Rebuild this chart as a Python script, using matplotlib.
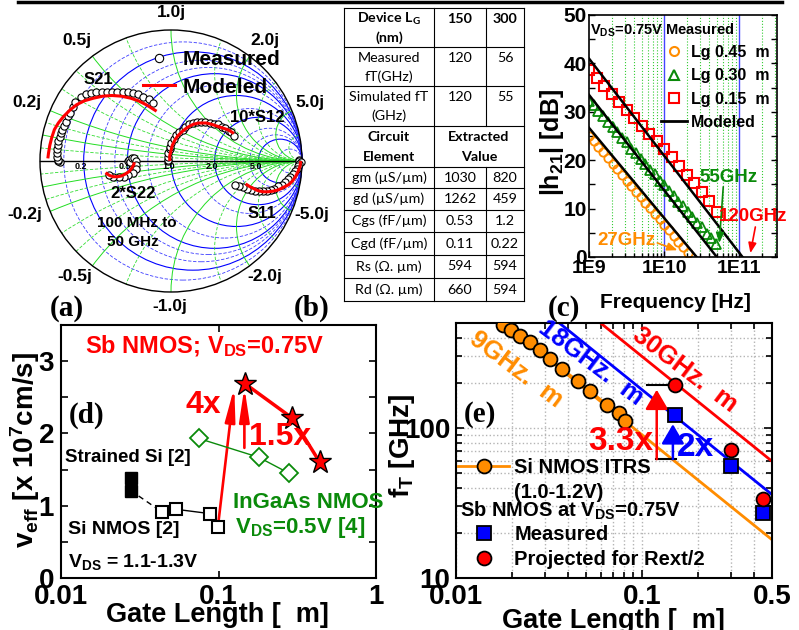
import matplotlib
matplotlib.use("Agg")
import matplotlib.pyplot as plt
from matplotlib.patches import Circle
from matplotlib.lines import Line2D

# ======================= DATA =======================
# (a) Smith chart: reflection coefficient (real, imag)
s21_meas_re = [-0.85, -0.86, -0.86, -0.87, -0.87, -0.87, -0.86, -0.86, -0.85, -0.84, -0.83, -0.82, -0.80, -0.79, -0.77, -0.75,
               -0.73, -0.69, -0.65, -0.61, -0.57, -0.53, -0.49, -0.45, -0.41, -0.37, -0.33, -0.29, -0.25, -0.21, -0.17, -0.14]
s21_meas_im = [-0.01, 0.00, 0.01, 0.03, 0.06, 0.09, 0.12, 0.15, 0.18, 0.21, 0.24, 0.27, 0.30, 0.34, 0.37, 0.41,
               0.45, 0.49, 0.51, 0.52, 0.53, 0.53, 0.53, 0.53, 0.53, 0.53, 0.53, 0.52, 0.51, 0.49, 0.47, 0.44]
s21_mod_re = [-0.94, -0.935, -0.925, -0.91, -0.89, -0.86, -0.82, -0.77, -0.72, -0.66, -0.59, -0.52, -0.45, -0.38, -0.31, -0.25, -0.19, -0.15, -0.11]
s21_mod_im = [0.02, 0.06, 0.12, 0.18, 0.24, 0.29, 0.34, 0.39, 0.43, 0.46, 0.48, 0.495, 0.50, 0.495, 0.48, 0.46, 0.43, 0.405, 0.38]

s22_meas_re = [-0.33, -0.32, -0.31, -0.30, -0.28, -0.27, -0.27, -0.27, -0.29, -0.33, -0.36, -0.40, -0.44, -0.47]
s22_meas_im = [0.00, 0.01, -0.01, 0.02, 0.02, 0.00, -0.03, -0.06, -0.09, -0.11, -0.12, -0.12, -0.12, -0.11]
s22_mod_re = [-0.50, -0.47, -0.44, -0.41, -0.38, -0.35, -0.32, -0.30, -0.285, -0.28]
s22_mod_im = [-0.09, -0.11, -0.12, -0.12, -0.115, -0.10, -0.08, -0.055, -0.03, -0.01]

s12_meas_re = [-0.02, -0.02, -0.02, -0.02, -0.01, -0.01, 0.00, 0.02, 0.04, 0.06, 0.09, 0.11, 0.14, 0.17, 0.20,
               0.23, 0.26, 0.30, 0.33, 0.36, 0.39, 0.41, 0.44, 0.46, 0.48]
s12_meas_im = [0.00, 0.01, 0.03, 0.06, 0.09, 0.11, 0.14, 0.17, 0.20, 0.22, 0.24, 0.26, 0.28, 0.29, 0.30,
               0.30, 0.30, 0.29, 0.28, 0.28, 0.26, 0.25, 0.23, 0.22, 0.19]
s12_mod_re = [-0.01, -0.01, 0.00, 0.01, 0.03, 0.05, 0.08, 0.11, 0.14, 0.17, 0.21, 0.24, 0.27, 0.31, 0.34, 0.37, 0.40, 0.43, 0.45, 0.48]
s12_mod_im = [0.00, 0.04, 0.08, 0.12, 0.16, 0.19, 0.22, 0.245, 0.265, 0.28, 0.29, 0.29, 0.29, 0.28, 0.27, 0.26, 0.25, 0.24, 0.23, 0.21]

s11_meas_re = [0.98, 0.98, 0.99, 0.98, 0.97, 0.96, 0.95, 0.93, 0.91, 0.89, 0.87, 0.85, 0.82, 0.79, 0.76,
               0.73, 0.70, 0.67, 0.64, 0.61, 0.58, 0.55, 0.52, 0.49]
s11_meas_im = [0.01, 0.00, -0.01, -0.02, -0.04, -0.06, -0.08, -0.10, -0.12, -0.14, -0.16, -0.18, -0.19, -0.21, -0.22,
               -0.23, -0.23, -0.23, -0.23, -0.22, -0.21, -0.20, -0.19, -0.18]
s11_mod_re = [0.99, 0.985, 0.97, 0.95, 0.93, 0.90, 0.86, 0.82, 0.78, 0.74, 0.70, 0.66, 0.63, 0.60, 0.57]
s11_mod_im = [0.0, -0.04, -0.08, -0.12, -0.15, -0.18, -0.20, -0.22, -0.23, -0.235, -0.235, -0.225, -0.21, -0.195, -0.175]

smith_r_solid = [0.2, 0.5, 1.0, 2.0, 5.0]
smith_r_dash = [0.1, 0.3, 0.4, 0.7, 1.5, 3.0, 4.0, 10.0]
smith_x_solid = [0.1, 0.2, 0.5, 1.0, 2.0, 5.0]
smith_x_dash = [0.05, 0.15, 0.3, 0.4, 0.7, 1.5, 3.0, 10.0]
smith_axis_vals = [0.2, 0.5, 1.0, 2.0, 5.0]
smith_axis_labels = ["0.2", "0.5", "1.0", "2.0", "5.0"]

# (b) table
tab_head = [("Device L$_G$", "(nm)", "150", "300"),
            ("Measured", "fT(GHz)", "120", "56"),
            ("Simulated fT", "(GHz)", "120", "55")]
tab_param = ["gm (µS/µm)", "gd (µS/µm)", "Cgs (fF/µm)", "Cgd (fF/µm)", "Rs (Ω. µm)", "Rd (Ω. µm)"]
tab_150 = ["1030", "1262", "0.53", "0.11", "594", "660"]
tab_300 = ["820", "459", "1.2", "0.22", "594", "594"]

# (c) |h21| vs frequency
f_045_ghz = [1.000, 1.155, 1.334, 1.540, 1.778, 2.054, 2.371, 2.738, 3.162, 3.652, 4.217, 4.870, 5.623, 6.494,
             7.499, 8.660, 10.00, 11.55, 13.34, 15.40, 17.78, 20.54]
db_045 = [25.0, 23.9, 22.7, 21.6, 20.4, 19.3, 18.1, 17.0, 15.8, 14.7, 13.5, 12.4, 11.2, 10.1,
          8.9, 7.8, 6.6, 5.5, 4.3, 3.2, 2.0, 0.9]
f_030_ghz = [1.000, 1.155, 1.334, 1.540, 1.778, 2.054, 2.371, 2.738, 3.162, 3.652, 4.217, 4.870, 5.623, 6.494,
             7.499, 8.660, 10.00, 11.55, 13.34, 15.40, 17.78, 20.54, 23.71, 27.38, 31.62, 36.52, 42.17, 48.70]
db_030 = [32.3, 31.4, 30.1, 29.2, 27.9, 26.9, 25.9, 24.6, 23.7, 22.4, 21.5, 20.2, 19.3, 18.0,
          17.1, 15.8, 14.9, 13.6, 12.7, 11.4, 10.5, 9.2, 8.3, 7.0, 6.1, 4.8, 3.9, 2.6]
f_015_ghz = [1.0, 1.26, 1.58, 2.0, 2.51, 3.16, 3.98, 5.01, 6.31, 7.94, 10.0, 12.6, 15.8, 20.0, 25.1, 31.6, 39.8, 50.1]
db_015 = [38.6, 37.0, 35.3, 33.7, 32.0, 30.4, 28.8, 27.1, 25.5, 23.9, 22.4, 20.6, 18.8, 17.0, 15.2, 13.4, 11.5, 9.4]
mod_015_ghz, mod_015_db = [1.0, 110.0], [41.0, 0.0]
mod_030_ghz, mod_030_db = [1.0, 50.0], [33.5, 0.0]
mod_045_ghz, mod_045_db = [1.0, 27.0], [26.7, 0.0]

# (d) effective velocity vs gate length
lg_sb = [0.147, 0.295, 0.44]
veff_sb = [2.69, 2.21, 1.60]
lg_ingaas = [0.075, 0.18, 0.28]
veff_ingaas = [1.93, 1.67, 1.45]
lg_strained = [0.0277, 0.0277]
veff_strained = [1.38, 1.21]
lg_si = [0.044, 0.054, 0.0886, 0.099]
veff_si = [0.91, 0.95, 0.89, 0.71]

# (e) fT vs gate length
itrs_lg = [0.0179, 0.0198, 0.022, 0.0249, 0.0282, 0.032, 0.037, 0.0455, 0.0526, 0.0647, 0.0748, 0.0813]
itrs_ft = [489, 449, 413, 372, 333, 288, 247, 205, 176, 143, 126, 112]
sb_lg = [0.15, 0.30, 0.45]
sb_meas_ft = [122, 55.5, 27]
sb_proj_ft = [194, 71.7, 33.6]
iso_lg = [0.01, 0.5]
iso_9 = [900, 18]
iso_18 = [1800, 36]
iso_30 = [3000, 60]

# ======================= FIGURE =======================
plt.rcParams['font.family'] = ['Liberation Sans', 'DejaVu Sans']
plt.rcParams['font.weight'] = 'bold'
plt.rcParams['mathtext.default'] = 'regular'
plt.rcParams['axes.linewidth'] = 1.5

W, H = 799, 630
fig = plt.figure(figsize=(W / 100, H / 100), dpi=100)


def px_axes(l, t, r, b, **kw):
    return fig.add_axes([l / W, 1 - b / H, (r - l) / W, (b - t) / H], **kw)


ov = fig.add_axes([0, 0, 1, 1], zorder=10)
ov.set_xlim(0, W)
ov.set_ylim(H, 0)
ov.axis('off')


def T(x, y, s, size, **kw):
    kw.setdefault('ha', 'center')
    kw.setdefault('va', 'center')
    ov.text(x, y, s, fontsize=size, **kw)


RED = '#ff0000'
GREEN = '#0a8a0a'
ORANGE = '#ff8c00'
BLUE = '#0000ff'
SERIF = ['Liberation Serif', 'DejaVu Serif']

# top rule
ov.plot([18, 782], [1.5, 1.5], color='k', lw=2.5)

# ---------------- (a) Smith chart ----------------
R, cx, cy, m = 131, 171, 161, 4
sm = px_axes(cx - R - m, cy - R - m, cx + R + m, cy + R + m)
lim = (R + m) / R
sm.set_xlim(-lim, lim)
sm.set_ylim(-lim, lim)
sm.axis('off')
border = Circle((0, 0), 1, fill=False, ec='black', lw=1.0, zorder=3)
sm.add_patch(border)
for r in smith_r_solid:
    sm.add_patch(Circle((r / (1 + r), 0), 1 / (1 + r), fill=False, ec='#0000ff', lw=0.8, zorder=1))
for r in smith_r_dash:
    sm.add_patch(Circle((r / (1 + r), 0), 1 / (1 + r), fill=False, ec='#3b3bff', lw=0.6,
                        ls=(0, (4, 2)), zorder=1))
for xv in smith_x_solid:
    for s in (1, -1):
        c = Circle((1, s / xv), 1 / xv, fill=False, ec='#22dd22', lw=0.7, zorder=1)
        sm.add_patch(c)
        c.set_clip_path(border)
for xv in smith_x_dash:
    for s in (1, -1):
        c = Circle((1, s / xv), 1 / xv, fill=False, ec='#33dd33', lw=0.6, ls=(0, (4, 2)), zorder=1)
        sm.add_patch(c)
        c.set_clip_path(border)
sm.plot([-1, 1], [0, 0], color='k', lw=1.0, zorder=2)
for v, lab in zip(smith_axis_vals, smith_axis_labels):
    sm.text((v - 1) / (v + 1) - 0.02, -0.045, lab, fontsize=6.5, ha='center', va='center', zorder=2)

mk = dict(ls='none', marker='o', mfc='white', mec='black', ms=5.2, mew=0.8, zorder=4)
for re_, im_ in ((s21_meas_re, s21_meas_im), (s22_meas_re, s22_meas_im),
                 (s12_meas_re, s12_meas_im), (s11_meas_re, s11_meas_im)):
    sm.plot(re_, im_, **mk)
for re_, im_ in ((s21_mod_re, s21_mod_im), (s22_mod_re, s22_mod_im),
                 (s12_mod_re, s12_mod_im), (s11_mod_re, s11_mod_im)):
    sm.plot(re_, im_, color=RED, lw=2.2, zorder=5, solid_capstyle='butt')

sm_handles = [Line2D([], [], ls='none', marker='o', mfc='white', mec='black', ms=6, mew=0.8),
              Line2D([], [], color=RED, lw=2.2)]
leg = sm.legend(sm_handles, ["Measured", "Modeled"], loc='upper left', bbox_to_anchor=(143 / W, 1 - 50 / H),
                bbox_transform=fig.transFigure, frameon=False, borderpad=0, borderaxespad=0,
                handlelength=1.55, handletextpad=0.35, labelspacing=0.42,
                prop=dict(family='Liberation Sans', weight='bold', size=15))
leg.set_zorder(6)

for s, x, y in (("1.0j", 171, 12), ("0.5j", 77, 40), ("2.0j", 265, 40), ("0.2j", 27, 103), ("5.0j", 310, 103),
                ("-0.2j", 25, 215), ("-5.0j", 312, 215), ("-0.5j", 75, 277), ("-2.0j", 265, 277), ("-1.0j", 170, 307)):
    T(x, y, s, 12.5)
T(98, 80, "S21", 12)
T(257, 118, "10*S12", 12)
T(133, 193, "2*S22", 12)
T(262, 213, "S11", 12)
T(137, 223, "100 MHz to", 11)
T(133, 242, "50 GHz", 11)

# ---------------- (b) table ----------------
tx = [344, 434, 486, 524]
ty = [8, 47, 86, 126, 167, 188, 210, 232, 255, 278, 301]
lk = dict(color='black', lw=0.8)
for y in ty:
    ov.plot([tx[0], tx[3]], [y, y], **lk)
ov.plot([tx[0], tx[0]], [ty[0], ty[-1]], **lk)
ov.plot([tx[3], tx[3]], [ty[0], ty[-1]], **lk)
ov.plot([tx[1], tx[1]], [ty[0], ty[-1]], **lk)
ov.plot([tx[2], tx[2]], [ty[0], ty[3]], **lk)
ov.plot([tx[2], tx[2]], [ty[4], ty[-1]], **lk)
TF = ['Lato', 'DejaVu Sans']
TS = 10.3
c1, c2, c3 = (tx[0] + tx[1]) / 2, (tx[1] + tx[2]) / 2, (tx[2] + tx[3]) / 2
for i, (a, b, v1, v2) in enumerate(tab_head):
    wt = 'bold' if i == 0 else 'normal'
    y1 = ty[i] + 11
    T(c1, y1, a, TS, family=TF, weight=wt)
    T(c1, y1 + 19, b, TS, family=TF, weight=wt)
    T(c2, y1, v1, TS, family=TF, weight=wt)
    T(c3, y1, v2, TS, family=TF, weight=wt)
T(c1, 137, "Circuit", TS, family=TF, weight='bold')
T(c1, 157, "Element", TS, family=TF, weight='bold')
T((tx[1] + tx[3]) / 2, 137, "Extracted", TS, family=TF, weight='bold')
T((tx[1] + tx[3]) / 2, 157, "Value", TS, family=TF, weight='bold')
for i, (p, v1, v2) in enumerate(zip(tab_param, tab_150, tab_300)):
    y = (ty[4 + i] + ty[5 + i]) / 2
    T(c1, y, p, TS, family=TF, weight='normal')
    T(c2, y, v1, TS, family=TF, weight='normal')
    T(c3, y, v2, TS, family=TF, weight='normal')

# ---------------- (c) |h21| ----------------
axc = px_axes(589, 15, 777, 257)
axc.set_xscale('log')
axc.set_xlim(1e9, 10 ** 11.5)
axc.set_ylim(0, 50)
for e in (9, 10, 11):
    for k in range(2, 10):
        if k * 10 ** e < 10 ** 11.5:
            axc.axvline(k * 10 ** e, color='#33cc33', ls=':', lw=0.8, zorder=0)
axc.axvline(1e10, color='#4444ff', lw=1.0, zorder=0)
axc.axvline(1e11, color='#4444ff', lw=1.0, zorder=0)
G = 1e9
axc.plot([f * G for f in mod_015_ghz], mod_015_db, color='k', lw=1.8, zorder=3)
axc.plot([f * G for f in mod_030_ghz], mod_030_db, color='k', lw=1.8, zorder=3)
axc.plot([f * G for f in mod_045_ghz], mod_045_db, color='k', lw=1.8, zorder=3)
axc.plot([f * G for f in f_045_ghz], db_045, ls='none', marker='o', mfc='none', mec=ORANGE, ms=6, mew=1.3, zorder=2)
axc.plot([f * G for f in f_030_ghz], db_030, ls='none', marker='^', mfc='none', mec=GREEN, ms=6.5, mew=1.3, zorder=2)
axc.plot([f * G for f in f_015_ghz], db_015, ls='none', marker='s', mfc='none', mec=RED, ms=6.5, mew=1.5, zorder=2)
axc.set_yticks(range(0, 51, 5), labels=['0', '', '10', '', '20', '', '30', '', '40', '', '50'])
axc.set_xticks([1e9, 1e10, 1e11], labels=['1E9', '1E10', '1E11'])
axc.set_xticks([k * 10 ** e for e in (9, 10, 11) for k in range(2, 10) if k * 10 ** e < 10 ** 11.5], minor=True)
axc.tick_params(which='both', direction='in', right=True, top=False, length=4, width=1.0)
axc.tick_params(axis='y', labelsize=15, pad=1.5)
axc.tick_params(axis='x', labelsize=14, pad=2)
axc.tick_params(axis='x', which='minor', length=3, labelbottom=False)
for sp in axc.spines.values():
    sp.set_linewidth(1.2)

ca = dict(arrowstyle='-|>,head_length=0.5,head_width=0.2', lw=1.2, shrinkA=0, shrinkB=0, mutation_scale=12)
axc.annotate('', xy=(5.4e10, 2.9), xytext=(6.1e10, 14.5), arrowprops=dict(color=GREEN, **ca))
axc.annotate('', xy=(1.4e11, 0.8), xytext=(1.63e11, 6.2), arrowprops=dict(color=RED, **ca), annotation_clip=False)
axc.annotate('', xy=(1.5e10, 1.4), xytext=(8.1e9, 2.9), arrowprops=dict(color=ORANGE, **ca))
axc.text(7.1e10, 16.5, "55GHz", color=GREEN, fontsize=13.5, ha='center', va='center')
axc.text(1.5e11, 8.3, "120GHz", color=RED, fontsize=13.5, ha='center', va='center')
axc.text(3.1e9, 3.5, "27GHz", color=ORANGE, fontsize=13.5, ha='center', va='center')

T(590, 35, "V$_{DS}$=0.75V Measured", 10.5, ha='left', va='baseline')
c_handles = [Line2D([], [], ls='none', marker='o', mfc='none', mec=ORANGE, ms=6.5, mew=1.5),
             Line2D([], [], ls='none', marker='^', mfc='none', mec=GREEN, ms=7, mew=1.5),
             Line2D([], [], ls='none', marker='s', mfc='none', mec=RED, ms=6.5, mew=1.5),
             Line2D([], [], color='k', lw=2)]
axc.legend(c_handles, ["Lg 0.45  m", "Lg 0.30  m", "Lg 0.15  m", "Modeled"], loc='upper left',
           bbox_to_anchor=(661 / W, 1 - 45 / H), bbox_transform=fig.transFigure, frameon=False,
           borderpad=0, borderaxespad=0, handlelength=1.6, handletextpad=0.3, labelspacing=0.52,
           prop=dict(family='Liberation Sans', weight='bold', size=11.5))
T(552, 142, "|h$_{21}$| [dB]", 18, rotation=90)
T(675, 308, "Frequency [Hz]", 15, va='baseline')
T(564, 308, "(c)", 21, family=SERIF)

# ---------------- (d) v_eff ----------------
axd = px_axes(61, 325, 376, 578)
axd.set_xscale('log')
axd.set_xlim(0.01, 1)
axd.set_ylim(0, 3.5)
axd.plot(lg_sb, veff_sb, color=RED, lw=2.5, marker='*', ms=17, mfc=RED, mec='black', mew=1.0, zorder=5)
axd.plot(lg_ingaas, veff_ingaas, color=GREEN, lw=1.0, marker='D', ms=9, mfc='white', mec=GREEN, mew=1.3, zorder=4)
axd.plot([lg_strained[1], lg_si[0]], [veff_strained[1], veff_si[0]], color='k', lw=1.0, ls=(0, (4, 3)), zorder=3)
axd.plot(lg_si[1:3], veff_si[1:3], color='k', lw=1.0, zorder=3)
axd.plot(lg_strained, veff_strained, ls='none', marker='s', ms=8, mfc='black', mec='black', zorder=4)
axd.plot(lg_si, veff_si, ls='none', marker='s', ms=8, mfc='white', mec='black', mew=1.5, zorder=4)
da = dict(arrowstyle='-|>,head_length=1.0,head_width=0.15', color=RED, lw=1.9, shrinkA=0, shrinkB=0,
          mutation_scale=20)
axd.annotate('', xy=(0.126, 2.64), xytext=(0.1, 0.78), arrowprops=da)
axd.annotate('', xy=(0.146, 2.64), xytext=(0.146, 1.80), arrowprops=da)
axd.set_xticks([0.01, 0.1, 1], labels=['0.01', '0.1', '1'])
axd.set_xticks([], minor=True)
axd.set_yticks([0, 1, 2, 3])
axd.set_yticks([0.5, 1.5, 2.5, 3.5], minor=True)
axd.tick_params(which='both', direction='in', top=True, right=True, length=5, width=1.2, labelsize=20)
axd.tick_params(axis='y', pad=5)
axd.tick_params(axis='x', pad=4)

T(85, 353, "Sb NMOS; V$_{DS}$=0.75V", 17, ha='left', va='baseline', color=RED)
T(203, 405, "4x", 23, color=RED)
T(280, 437, "1.5x", 23, color=RED)
T(87, 415, "(d)", 21, family=SERIF)
T(65, 458, "Strained Si [2]", 13.5, ha='left')
T(68, 530, "Si NMOS [2]", 14, ha='left')
T(68, 567, "V$_{DS}$ = 1.1-1.3V", 14, ha='left', va='baseline')
T(233, 502, "InGaAs NMOS", 16, ha='left', color=GREEN)
T(235, 533, "V$_{DS}$=0.5V [4]", 16, ha='left', va='baseline', color=GREEN)
T(25, 450, "v$_{eff}$ [x 10$^{7}$cm/s]", 20, rotation=90)
T(217, 622, "Gate Length [  m]", 19.5, va='baseline')
T(67, 308, "(a)", 21, family=SERIF)
T(312, 308, "(b)", 21, family=SERIF)

# ---------------- (e) fT ----------------
axe = px_axes(456, 323, 772, 578)
axe.set_xscale('log')
axe.set_yscale('log')
axe.set_xlim(0.01, 0.5)
axe.set_ylim(10, 10 ** 2.7)
axe.set_axisbelow(True)
axe.grid(True, which='both', color='#b4b4b4', ls=':', lw=1.0)
axe.plot(iso_lg, iso_9, color=ORANGE, lw=2, zorder=2)
axe.plot(iso_lg, iso_18, color=BLUE, lw=2, zorder=2)
axe.plot(iso_lg, iso_30, color=RED, lw=2, zorder=2)
axe.plot(itrs_lg, itrs_ft, color=ORANGE, lw=2, marker='o', ms=10, mfc=ORANGE, mec='black', mew=1.3, zorder=4)
axe.plot(sb_lg, sb_meas_ft, ls='none', marker='s', ms=9.5, mfc=BLUE, mec='black', mew=1.3, zorder=4)
axe.plot(sb_lg, sb_proj_ft, ls='none', marker='o', ms=10, mfc=RED, mec='black', mew=1.3, zorder=5)
axe.plot([0.106, 0.1445], [193, 193], color='k', lw=1.5, zorder=3)
axe.plot([0.119, 0.152], [62, 62], color='k', lw=1.5, zorder=3)
ea = dict(arrowstyle='-|>,head_length=0.6,head_width=0.35', lw=1.8, shrinkA=0, shrinkB=0, mutation_scale=20)
axe.annotate('', xy=(0.12, 180), xytext=(0.12, 62), arrowprops=dict(color=RED, **ea))
axe.annotate('', xy=(0.1466, 106), xytext=(0.1466, 62), arrowprops=dict(color=BLUE, **ea))
axe.set_xticks([0.01, 0.1, 0.5], labels=['0.01', '0.1', '0.5'])
axe.set_xticks([0.02, 0.03, 0.04, 0.05, 0.06, 0.07, 0.08, 0.09, 0.2, 0.3, 0.4], minor=True)
axe.set_yticks([10, 100], labels=['10', '100'])
axe.set_yticks([20, 30, 40, 50, 60, 70, 80, 90, 200, 300, 400], minor=True)
axe.xaxis.set_minor_formatter(matplotlib.ticker.NullFormatter())
axe.yaxis.set_minor_formatter(matplotlib.ticker.NullFormatter())
axe.tick_params(which='both', direction='in', top=True, right=True, width=1.2, labelsize=20)
axe.tick_params(which='major', length=6)
axe.tick_params(which='minor', length=4)
axe.tick_params(axis='y', pad=4)
axe.tick_params(axis='x', pad=4)

e1 = [Line2D([], [], color=ORANGE, lw=2, marker='o', ms=10, mfc=ORANGE, mec='black', mew=1.3),
      Line2D([], [], ls='none')]
lg1 = axe.legend(e1, ["Si NMOS ITRS", "(1.0-1.2V)"], loc='upper left', bbox_to_anchor=(458 / W, 1 - 458 / H),
                 bbox_transform=fig.transFigure, frameon=False, borderpad=0, borderaxespad=0,
                 handlelength=2.54, handletextpad=0.26, labelspacing=0.3,
                 prop=dict(family='Liberation Sans', weight='bold', size=14.5))
axe.add_artist(lg1)
e2 = [Line2D([], [], ls='none', marker='s', ms=9.5, mfc=BLUE, mec='black', mew=1.3),
      Line2D([], [], ls='none', marker='o', ms=10, mfc=RED, mec='black', mew=1.3)]
axe.legend(e2, ["Measured", "Projected for Rext/2"], loc='upper left', bbox_to_anchor=(458 / W, 1 - 525 / H),
           bbox_transform=fig.transFigure, frameon=False, borderpad=0, borderaxespad=0,
           handlelength=2.54, handletextpad=0.26, labelspacing=0.32,
           prop=dict(family='Liberation Sans', weight='bold', size=14.5))
T(460, 517, "Sb NMOS at V$_{DS}$=0.75V", 14.5, ha='left', va='baseline')
T(480, 415, "(e)", 21, family=SERIF)
T(621, 442, "3.3x", 24, color=RED)
T(696, 448, "2x", 24, color=BLUE)
T(516, 370, "9GHz.  m", 18.5, rotation=-37, color=ORANGE)
T(591, 363, "18GHz.  m", 18.5, rotation=-37, color=BLUE)
T(685, 370, "30GHz.  m", 18.5, rotation=-37, color=RED)
T(402, 446, "f$_{T}$ [GHz]", 20, rotation=90)
T(613, 628, "Gate Length [  m]", 19.5, va='baseline')

fig.savefig("out.png", dpi=100)
